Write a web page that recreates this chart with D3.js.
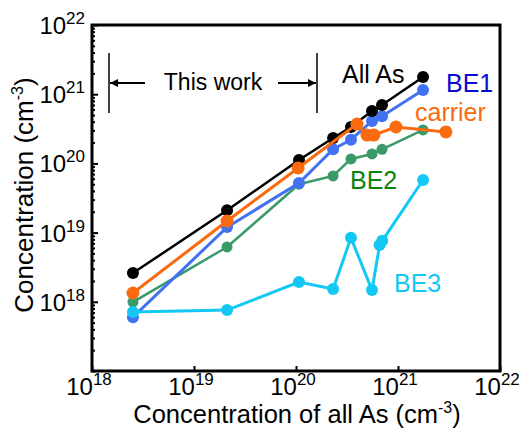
<!DOCTYPE html>
<html>
<head>
<meta charset="utf-8">
<script src="https://cdn.jsdelivr.net/npm/d3@7"></script>
<style>
body { margin: 0; background: #fff; }
text { font-family: "Liberation Sans", Arial, sans-serif; }
</style>
</head>
<body>
<div id="chart"></div>
<script>
// Data
var allAsX = [2.52e18, 2.11e19, 1.07e20, 2.31e20, 3.46e20, 5.56e20, 6.97e20, 1.76e21];
var allAsY = [2.6e18, 2.1e19, 1.12e20, 2.33e20, 3.36e20, 5.7e20, 6.98e20, 1.77e21];
var be1Y = [6.0e17, 1.2e19, 5.2e19, 1.6e20, 2.2e20, 4.1e20, 4.8e20, 1.15e21];
var be2Y = [9.9e17, 6.2e18, 5.0e19, 6.6e19, 1.16e20, 1.37e20, 1.6e20, 3.04e20];
var carrierX = [2.52e18, 2.11e19, 1.05e20, 3.96e20, 4.97e20, 5.8e20, 9.55e20, 2.95e21];
var carrierY = [1.34e18, 1.47e19, 8.6e19, 3.7e20, 2.57e20, 2.57e20, 3.36e20, 2.85e20];
var be3X = [2.52e18, 2.11e19, 1.07e20, 2.31e20, 3.46e20, 5.56e20, 6.6e20, 7.0e20, 1.76e21];
var be3Y = [7.1e17, 7.6e17, 1.93e18, 1.53e18, 8.4e18, 1.48e18, 6.6e18, 7.6e18, 5.75e19];
var xTicks = [1e18, 1e19, 1e20, 1e21, 1e22];
var yTicks = [1e18, 1e19, 1e20, 1e21, 1e22];

var width = 532, height = 429;

var svg = d3.select("#chart").append("svg")
    .attr("width", width)
    .attr("height", height);

var x = d3.scaleLog().domain([1e18, 1e22]).range([92, 500]);
var y = d3.scaleLog().domain([1e17, 1e22]).range([371, 25]);

function zip(xs, ys) {
    return xs.map(function(d, i) { return [d, ys[i]]; });
}

// series in drawing order (last on top)
var series = [
    {name: "BE2", color: "#3a9a68", r: 5.5, w: 2.5, pts: zip(allAsX, be2Y)},
    {name: "BE1", color: "#4271f2", r: 6, w: 3, pts: zip(allAsX, be1Y)},
    {name: "BE3", color: "#14c8f5", r: 6, w: 3, pts: zip(be3X, be3Y)},
    {name: "All As", color: "#000000", r: 6, w: 2.5, pts: zip(allAsX, allAsY)},
    {name: "carrier", color: "#fa6a0f", r: 6.5, w: 3, pts: zip(carrierX, carrierY)}
];

// Axes: ticks pointing inwards
var minor = y.ticks().filter(function(d) { return yTicks.indexOf(d) < 0; });
svg.append("g")
    .attr("transform", "translate(92,0)")
    .call(d3.axisLeft(y).tickValues(minor).tickSize(-3).tickFormat(""))
    .call(function(g) { g.select(".domain").remove(); })
    .selectAll("line").attr("stroke-width", 2);
svg.append("g")
    .attr("transform", "translate(92,0)")
    .call(d3.axisLeft(y).tickValues(yTicks).tickSize(-6).tickFormat(""))
    .call(function(g) { g.select(".domain").remove(); })
    .selectAll("line").attr("stroke-width", 2);
svg.append("g")
    .attr("transform", "translate(0,371)")
    .call(d3.axisBottom(x).tickValues(xTicks).tickSize(-5).tickFormat(""))
    .call(function(g) { g.select(".domain").remove(); })
    .selectAll("line").attr("stroke-width", 2);

// frame
svg.append("rect")
    .attr("x", 92).attr("y", 25)
    .attr("width", 408).attr("height", 346)
    .attr("fill", "none")
    .attr("stroke", "#000")
    .attr("stroke-width", 3);

// tick labels 10^n
function powerLabel(sel) {
    sel.text("10")
        .append("tspan")
        .attr("dy", -10)
        .attr("font-size", 17)
        .text(function(d) { return Math.round(Math.log10(d)); });
}
svg.selectAll(".xlab")
    .data(xTicks)
    .enter().append("text")
    .attr("class", "xlab")
    .attr("x", function(d) { return x(d) - 3; })
    .attr("y", 395)
    .attr("text-anchor", "middle")
    .attr("font-size", 24)
    .call(powerLabel);
svg.selectAll(".ylab")
    .data(yTicks)
    .enter().append("text")
    .attr("class", "ylab")
    .attr("x", 85)
    .attr("y", function(d) { return y(d) + 9; })
    .attr("text-anchor", "end")
    .attr("font-size", 24)
    .call(powerLabel);

// axis titles
var xt = svg.append("text")
    .attr("x", 297).attr("y", 423)
    .attr("text-anchor", "middle")
    .attr("font-size", 25.5)
    .text("Concentration of all As (cm");
xt.append("tspan").attr("dy", -10).attr("font-size", 16).text("-3");
xt.append("tspan").attr("dy", 10).text(")");

var yt = svg.append("text")
    .attr("transform", "translate(33,195) rotate(-90)")
    .attr("text-anchor", "middle")
    .attr("font-size", 26)
    .text("Concentration (cm");
yt.append("tspan").attr("dy", -10).attr("font-size", 16).text("-3");
yt.append("tspan").attr("dy", 10).text(")");

// Draw series
var line = d3.line()
    .x(function(d) { return x(d[0]); })
    .y(function(d) { return y(d[1]); });

series.forEach(function(s) {
    svg.append("path")
        .attr("d", line(s.pts))
        .attr("fill", "none")
        .attr("stroke", s.color)
        .attr("stroke-width", s.w);
    svg.selectAll(".pt")
        .data(s.pts)
        .enter().append("circle")
        .attr("cx", function(d) { return x(d[0]); })
        .attr("cy", function(d) { return y(d[1]); })
        .attr("r", s.r)
        .attr("fill", s.color);
});

// series labels
var labels = [
    {t: "All As", c: "#000000", x: 342, y: 83},
    {t: "BE1", c: "#0a0ad0", x: 446, y: 92},
    {t: "carrier", c: "#fa6a0f", x: 415, y: 121},
    {t: "BE2", c: "#0a840a", x: 350, y: 189},
    {t: "BE3", c: "#14c8f5", x: 394, y: 292}
];
svg.selectAll(".lbl")
    .data(labels)
    .enter().append("text")
    .attr("x", function(d) { return d.x; })
    .attr("y", function(d) { return d.y; })
    .attr("font-size", 25)
    .attr("fill", function(d) { return d.c; })
    .text(function(d) { return d.t; });

// "This work" bracket
svg.append("defs").append("marker")
    .attr("id", "arr")
    .attr("viewBox", "0 0 10 10")
    .attr("refX", 10).attr("refY", 5)
    .attr("markerWidth", 10).attr("markerHeight", 8)
    .attr("markerUnits", "userSpaceOnUse")
    .attr("orient", "auto")
    .append("path")
    .attr("d", "M0,0L10,5L0,10Z")
    .attr("fill", "#000");

[109, 317].forEach(function(px) {
    svg.append("line")
        .attr("x1", px).attr("x2", px)
        .attr("y1", 53).attr("y2", 113)
        .attr("stroke", "#000").attr("stroke-width", 1.5);
});
svg.append("line")
    .attr("x1", 145).attr("x2", 110)
    .attr("y1", 83).attr("y2", 83)
    .attr("stroke", "#000").attr("stroke-width", 2)
    .attr("marker-end", "url(#arr)");
svg.append("line")
    .attr("x1", 278).attr("x2", 316)
    .attr("y1", 83).attr("y2", 83)
    .attr("stroke", "#000").attr("stroke-width", 2)
    .attr("marker-end", "url(#arr)");
svg.append("text")
    .attr("x", 213).attr("y", 90)
    .attr("text-anchor", "middle")
    .attr("font-size", 23)
    .text("This work");
</script>
</body>
</html>
